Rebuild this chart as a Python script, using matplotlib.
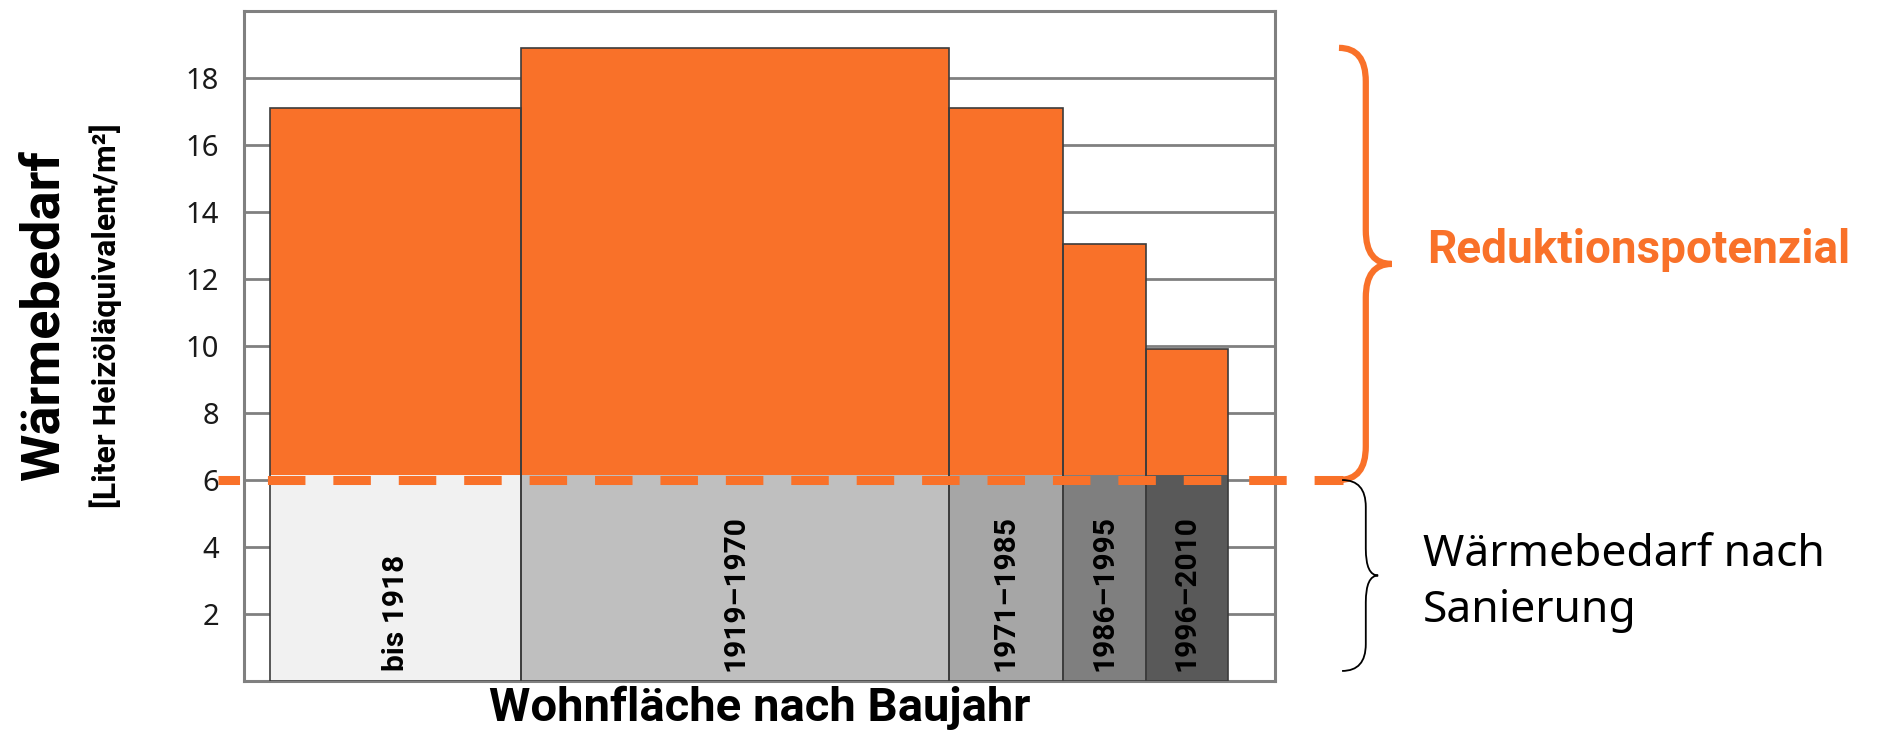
import numpy as np
import matplotlib.pyplot as plt
from matplotlib.path import Path
from matplotlib.patches import PathPatch
from matplotlib.transforms import blended_transform_factory

plt.rcParams['lines.scale_dashes'] = False

# Daten
perioden = ['bis 1918', '1919–1970', '1971–1985', '1986–1995', '1996–2010']
wohnflaeche = [2.44, 4.15, 1.10, 0.81, 0.79]      # Balkenbreite
waermebedarf = [17.1, 18.9, 17.1, 13.05, 9.9]     # Liter Heizöläquivalent/m²
nach_sanierung = 6.15
ziellinie = 6.0
y_ticks = [2, 4, 6, 8, 10, 12, 14, 16, 18]

grau = ['#f1f1f1', '#bfbfbf', '#a6a6a6', '#7f7f7f', '#595959']
orange = '#f97129'
din = 'Roboto'
sans = 'Noto Sans'

fig = plt.figure(figsize=(18.96, 7.34), dpi=100)
ax = fig.add_axes([0.1287, 0.0722, 0.5438, 0.9128])

start = 0.25
lefts = start + np.concatenate([[0], np.cumsum(wohnflaeche)[:-1]])
mitten = lefts + np.array(wohnflaeche) / 2

ax.bar(lefts, waermebedarf, width=wohnflaeche, align='edge', color=orange,
       edgecolor='none', zorder=2)
ax.bar(lefts, [nach_sanierung] * len(perioden), width=wohnflaeche, align='edge',
       color=grau, edgecolor='none', zorder=3)
ax.bar(lefts, waermebedarf, width=wohnflaeche, align='edge', facecolor='none',
       edgecolor='#3c3c3c', lw=1.2, zorder=4)

for x, p in zip(mitten, perioden):
    ax.text(x, 0.3, p, rotation=90, ha='center', va='bottom', fontsize=21.5,
            fontweight='bold', family=din, color='black', zorder=6)

ax.set_xlim(0, 10)
ax.set_ylim(0, 20)
ax.set_xticks([])
ax.set_yticks(y_ticks)
ax.set_yticklabels([str(t) for t in y_ticks], family=sans, fontsize=21, color='#1a1a1a')
ax.tick_params(axis='y', length=0, pad=18)
ax.set_axisbelow(True)
ax.yaxis.grid(True, color='#808080', lw=2)
for s in ax.spines.values():
    s.set_color('#808080')
    s.set_linewidth(2.2)

trans = blended_transform_factory(ax.transAxes, ax.transData)

# gestrichelte Linie
ax.plot([-0.025, 1.066], [ziellinie, ziellinie], transform=trans, color=orange, lw=6.5,
        linestyle=(11.5, (27, 20.1)), dash_capstyle='butt', clip_on=False, zorder=5)


def klammer(x0, x1, xtip, ybot, ytop, r, farbe, lw):
    ymid = (ybot + ytop) / 2
    verts = [(x0, ytop), (x1, ytop), (x1, ytop - r),
             (x1, ymid + r), (x1, ymid), (xtip, ymid),
             (x1, ymid), (x1, ymid - r),
             (x1, ybot + r), (x1, ybot), (x0, ybot)]
    codes = [Path.MOVETO, Path.CURVE3, Path.CURVE3,
             Path.LINETO, Path.CURVE3, Path.CURVE3,
             Path.CURVE3, Path.CURVE3,
             Path.LINETO, Path.CURVE3, Path.CURVE3]
    ax.add_patch(PathPatch(Path(verts, codes), facecolor='none', edgecolor=farbe,
                           lw=lw, transform=trans, clip_on=False, zorder=5))


klammer(1.062, 1.088, 1.113, ziellinie, max(waermebedarf), 1.0, orange, 4.5)
klammer(1.065, 1.088, 1.100, 0.3, ziellinie, 0.8, 'black', 1.3)

fig.text(0.7526, 0.6594, 'Reduktionspotenzial', color=orange, fontsize=33,
         fontweight='bold', family=din, ha='left', va='center')
fig.text(0.7505, 0.2439, 'Wärmebedarf nach', color='black', fontsize=32,
         family=sans, ha='left', va='center')
fig.text(0.7505, 0.1676, 'Sanierung', color='black', fontsize=32,
         family=sans, ha='left', va='center')

fig.text(0.023, 0.5695, 'Wärmebedarf', rotation=90, fontsize=39, fontweight='bold',
         family=din, ha='center', va='center')
fig.text(0.056, 0.5695, '[Liter Heizöläquivalent/m²]', rotation=90, fontsize=23,
         fontweight='bold', family=din, ha='center', va='center')
fig.text(0.4005, 0.0354, 'Wohnfläche nach Baujahr', fontsize=34, fontweight='bold',
         family=din, ha='center', va='center')

fig.savefig('out.png', dpi=100)
